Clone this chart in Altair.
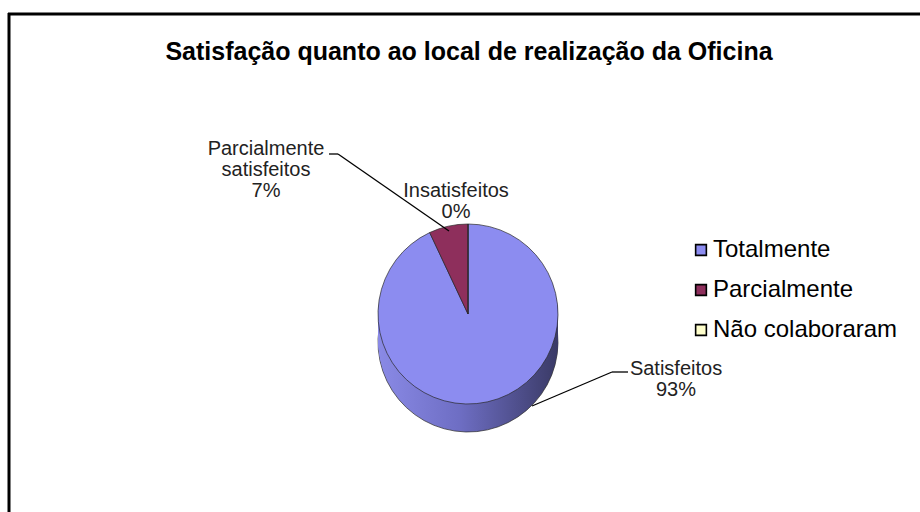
import altair as alt
import pandas as pd

# ---- data ----
legend_names = ["Totalmente", "Parcialmente", "Não colaboraram"]
label_names = ["Satisfeitos", "Parcialmente\nsatisfeitos", "Insatisfeitos"]
values = [93, 7, 0]
colors = ["#8c8cf0", "#8e2f5c", "#ffffcc"]
title_text = "Satisfação quanto ao local de realização da Oficina"

df = pd.DataFrame({
    "cat": legend_names,
    "lab": label_names,
    "val": values,
    "idx": list(range(len(values))),
})
df["text"] = df["lab"] + "\n" + df["val"].astype(str) + "%"

W, H = 920, 512
CX, CY, R, DEPTH = 468, 314, 90, 28
FONT = "Liberation Sans"

base = alt.Chart(df)
one = alt.Chart(pd.DataFrame({"k": [0]}))

side_fill = alt.Gradient(
    gradient="linear",
    stops=[
        alt.GradientStop(color="#8a8ae6", offset=0),
        alt.GradientStop(color="#6e6ec4", offset=0.45),
        alt.GradientStop(color="#3a3a66", offset=1),
    ],
    x1=0, x2=1, y1=0, y2=0,
)

layers = []
# frame
layers.append(one.mark_rule(color="black", strokeWidth=3).encode(
    x=alt.value(8), x2=alt.value(W), y=alt.value(14), y2=alt.value(14)))
layers.append(one.mark_rule(color="black", strokeWidth=3).encode(
    x=alt.value(9), x2=alt.value(9), y=alt.value(13), y2=alt.value(H)))

# side of the 3D pie (stacked offset copies)
steps = 14
for k in range(steps, 0, -1):
    off = DEPTH * k / steps
    last = (k == steps)
    layers.append(base.mark_arc(
        radius=R, fill=side_fill,
        stroke="#2a2a2a" if last else "#6e6ec4",
        strokeWidth=0.7 if last else 0,
    ).encode(
        theta=alt.Theta("val:Q", stack=True),
        order=alt.Order("idx:Q"),
        x=alt.value(CX), y=alt.value(CY + off),
    ))

# top face
layers.append(base.mark_arc(radius=R, stroke="#2a2a2a", strokeWidth=0.7).encode(
    theta=alt.Theta("val:Q", stack=True),
    order=alt.Order("idx:Q"),
    color=alt.Color("cat:N", scale=alt.Scale(domain=legend_names, range=colors),
                    legend=alt.Legend(
                        title=None, orient="none", legendX=689, legendY=238,
                        symbolType="square", symbolSize=115,
                        symbolStrokeColor="black", symbolStrokeWidth=1.6,
                        labelFontSize=24, labelFont=FONT, labelColor="black",
                        labelLimit=400, rowPadding=16, labelOffset=0)),
    x=alt.value(CX), y=alt.value(CY),
))

# leader lines
for (x1, y1, x2, y2) in [(329, 154, 338, 154), (338, 154, 449, 231),
                         (532, 406, 612, 372), (612, 372, 628, 372)]:
    layers.append(one.mark_rule(color="black", strokeWidth=1.3).encode(
        x=alt.value(x1), y=alt.value(y1), x2=alt.value(x2), y2=alt.value(y2)))

# data labels
label_pos = {0: (676, 375), 1: (266, 155), 2: (456, 197)}
for i, (lx, ly) in label_pos.items():
    layers.append(base.transform_filter(alt.datum.idx == i).mark_text(
        font=FONT, fontSize=20, color="#222", lineBreak="\n", lineHeight=21,
        align="center", baseline="alphabetic",
    ).encode(text="text:N", x=alt.value(lx), y=alt.value(ly)))

# title
layers.append(one.mark_text(font=FONT, fontSize=25, fontWeight="bold", color="black",
                            align="center", baseline="alphabetic").encode(
    text=alt.value(title_text), x=alt.value(469), y=alt.value(60)))

chart = alt.layer(*layers).properties(
    width=W, height=H, autosize="none", padding=0, background="white"
).configure_view(stroke=None)

chart.save("out.html", embed_options={"renderer": "svg", "actions": False})
